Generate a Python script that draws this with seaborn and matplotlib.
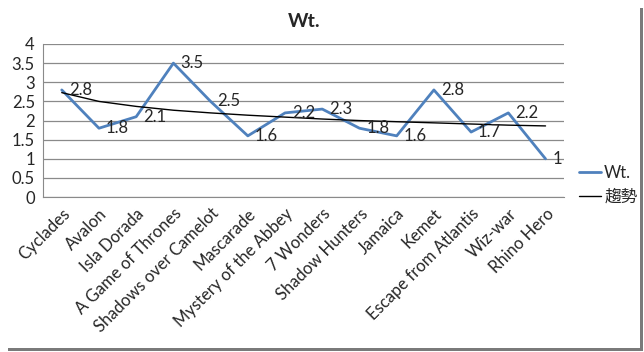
import matplotlib
matplotlib.use("Agg")
import matplotlib.pyplot as plt
from matplotlib.patches import Rectangle
import pandas as pd
import seaborn as sns

games = ["Cyclades", "Avalon", "Isla Dorada", "A Game of Thrones",
         "Shadows over Camelot", "Mascarade", "Mystery of the Abbey",
         "7 Wonders", "Shadow Hunters", "Jamaica", "Kemet",
         "Escape from Atlantis", "Wiz-war", "Rhino Hero"]
weights = [2.8, 1.8, 2.1, 3.5, 2.5, 1.6, 2.2, 2.3, 1.8, 1.6, 2.8, 1.7, 2.2, 1.0]
# trend line values
trend = [2.73, 2.50, 2.37, 2.27, 2.20, 2.14, 2.09, 2.04, 2.00, 1.97, 1.94, 1.91, 1.88, 1.86]
y_ticks = [0, 0.5, 1, 1.5, 2, 2.5, 3, 3.5, 4]

sns.set_style("white")
plt.rcParams["font.family"] = ["Lato", "Noto Sans CJK TC", "DejaVu Sans"]

df = pd.DataFrame({"pos": range(len(games)), "Wt.": weights, "趨勢": trend})

fig = plt.figure(figsize=(6.44, 3.52), dpi=100)
ax = fig.add_axes([0.067, 0.44, 0.809, 0.435])

# drop shadow on the right and bottom of the chart area
fig.patches.append(Rectangle((0.012, 0.002), 0.986, 0.975, transform=fig.transFigure,
                             facecolor="#7a7a7a", edgecolor="none", zorder=0))
fig.patches.append(Rectangle((0.0, 0.0114), 0.9945, 0.99, transform=fig.transFigure,
                             facecolor="white", edgecolor="none", zorder=1))

for y in y_ticks:
    ax.axhline(y, color="#8a8a8a", linewidth=0.9, zorder=0)

sns.lineplot(data=df, x="pos", y="Wt.", ax=ax, color="#4f81bd", linewidth=2, label="Wt.")
sns.lineplot(data=df, x="pos", y="趨勢", ax=ax, color="black", linewidth=1, label="趨勢")

for i, v in enumerate(weights):
    ax.annotate(f"{v:g}", (i, v), xytext=(5, 0), textcoords="offset points",
                ha="left", va="center", fontsize=12)

ax.set_xlim(-0.5, len(games) - 0.5)
ax.set_ylim(0, 4)
ax.set_yticks(y_ticks)
ax.set_yticklabels([f"{y:g}" for y in y_ticks], fontsize=12)
ax.set_xticks(range(len(games)))
ax.set_xticklabels(games, rotation=45, ha="right", rotation_mode="anchor", fontsize=12)
ax.set_xticks([i + 0.5 for i in range(-1, len(games))], minor=True)
ax.tick_params(axis="x", which="major", length=0, pad=6)
ax.tick_params(axis="x", which="minor", length=4, color="#8a8a8a", direction="out")
ax.tick_params(axis="y", length=4, color="#8a8a8a", direction="out", pad=2)
ax.set_xlabel("")
ax.set_ylabel("")
for s in ["top", "right"]:
    ax.spines[s].set_visible(False)
for s in ["left", "bottom"]:
    ax.spines[s].set_color("#8a8a8a")
ax.patch.set_alpha(0)
ax.set_zorder(3)

ax.set_title("Wt.", fontsize=14, fontweight="bold", pad=12)
ax.legend(loc="center left", bbox_to_anchor=(1.0, 0.08), frameon=False, fontsize=12,
          handlelength=1.3, handletextpad=0.2, labelspacing=0.5)

fig.savefig("out.png", dpi=100)
